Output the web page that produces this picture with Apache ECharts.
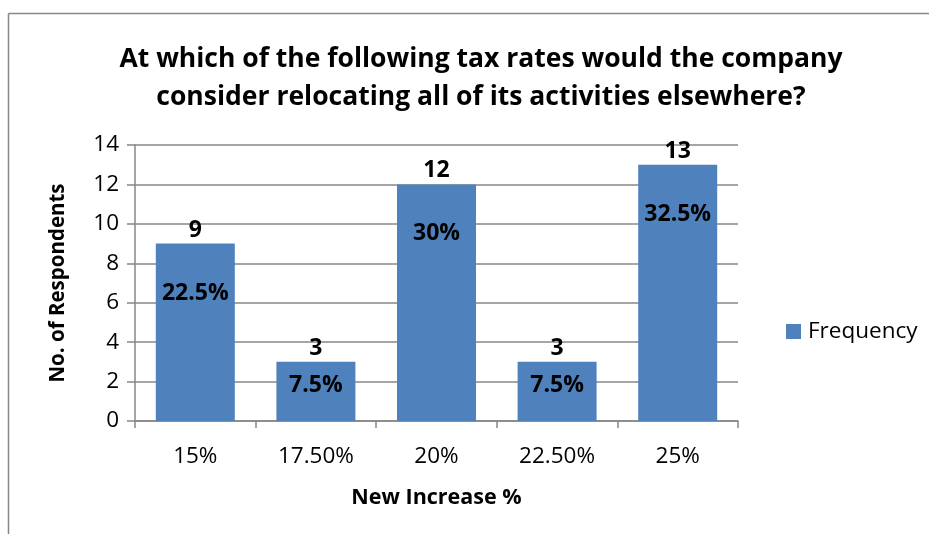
<!DOCTYPE html>
<html>
<head>
<meta charset="utf-8">
<script src="https://cdn.jsdelivr.net/npm/echarts@6/dist/echarts.min.js"></script>
<style>
html,body{margin:0;padding:0;background:#fff;}
#chart{width:929px;height:534px;}
</style>
</head>
<body>
<div id="chart"></div>
<script>
const titleText = "At which of the following tax rates would the company\nconsider relocating all of its activities elsewhere?";
const categories = ["15%", "17.50%", "20%", "22.50%", "25%"];
const frequency = [9, 3, 12, 3, 13];
const percentLabels = ["22.5%", "7.5%", "30%", "7.5%", "32.5%"];
const yTicks = { min: 0, max: 14, interval: 2 };
const seriesName = "Frequency";
const xAxisName = "New Increase %";
const yAxisName = "No. of Respondents";

const FONT = "'Open Sans', 'Liberation Sans', sans-serif";
const GRID_COLOR = "#878787";
const BAR_COLOR = "#4F81BD";

const chart = echarts.init(document.getElementById('chart'), null, { renderer: 'canvas' });

chart.setOption({
  animation: false,
  backgroundColor: '#fff',
  graphic: [
    { type: 'line', shape: { x1: 8.5, y1: 13.5, x2: 8.5, y2: 534 }, style: { stroke: GRID_COLOR, lineWidth: 1.5 }, silent: true },
    { type: 'line', shape: { x1: 8.5, y1: 13.5, x2: 929, y2: 13.5 }, style: { stroke: GRID_COLOR, lineWidth: 1.5 }, silent: true }
  ],
  title: {
    text: titleText,
    left: 476,
    top: 35,
    textAlign: 'center',
    textStyle: { fontFamily: FONT, fontWeight: 'bold', fontSize: 26.5, lineHeight: 38, color: '#000' }
  },
  legend: {
    data: [seriesName],
    orient: 'vertical',
    left: 781,
    top: 315,
    itemWidth: 15,
    itemHeight: 15,
    itemGap: 0,
    icon: 'rect',
    textStyle: { fontFamily: FONT, fontSize: 22.5, color: '#000', padding: [0, 0, 0, 2] }
  },
  grid: { left: 135, right: 191, top: 145, bottom: 113, containLabel: false },
  xAxis: {
    type: 'category',
    data: categories,
    name: xAxisName,
    nameLocation: 'middle',
    nameGap: 66,
    nameTextStyle: { fontFamily: FONT, fontWeight: 'bold', fontSize: 21.5, color: '#000' },
    axisLine: { show: true, lineStyle: { color: GRID_COLOR, width: 1.5 } },
    axisTick: { show: true, alignWithLabel: false, length: 7, lineStyle: { color: GRID_COLOR, width: 1.5 } },
    axisLabel: { fontFamily: FONT, fontSize: 22.5, color: '#000', margin: 24 },
    splitLine: { show: false }
  },
  yAxis: {
    type: 'value',
    min: yTicks.min,
    max: yTicks.max,
    interval: yTicks.interval,
    name: yAxisName,
    nameLocation: 'middle',
    nameRotate: 90,
    nameGap: 66,
    nameTextStyle: { fontFamily: FONT, fontWeight: 'bold', fontSize: 20.5, color: '#000' },
    axisLine: { show: true, lineStyle: { color: GRID_COLOR, width: 1.5 } },
    axisTick: { show: true, length: 8, lineStyle: { color: GRID_COLOR, width: 1.5 } },
    axisLabel: { fontFamily: FONT, fontSize: 22.5, color: '#000', margin: 16 },
    splitLine: { show: true, lineStyle: { color: GRID_COLOR, width: 1.5 } }
  },
  series: [
    {
      name: seriesName,
      type: 'bar',
      data: frequency,
      barWidth: '65.5%',
      itemStyle: { color: BAR_COLOR },
      label: {
        show: true,
        position: 'top',
        distance: 2,
        fontFamily: FONT, fontWeight: 'bold', fontSize: 23, color: '#000',
        formatter: p => String(p.value)
      },
      z: 2
    },
    {
      name: 'pct',
      type: 'bar',
      data: frequency.map((v, i) => ({
        value: v,
        label: { distance: v >= 6 ? 38 : 12 }
      })),
      barWidth: '65.5%',
      barGap: '-100%',
      itemStyle: { color: 'rgba(0,0,0,0)' },
      label: {
        show: true,
        position: 'insideTop',
        fontFamily: FONT, fontWeight: 'bold', fontSize: 23, color: '#000',
        formatter: p => percentLabels[p.dataIndex]
      },
      tooltip: { show: false },
      z: 3
    }
  ]
});
</script>
</body>
</html>
